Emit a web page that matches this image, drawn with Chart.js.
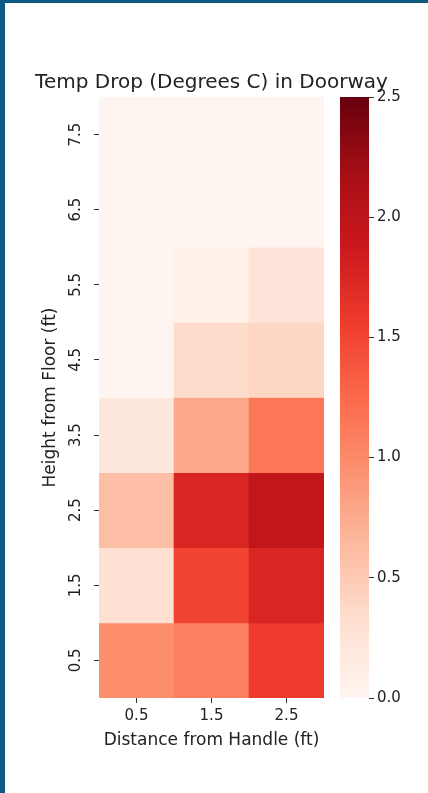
<!DOCTYPE html>
<html>
<head>
<meta charset="utf-8">
<script src="https://cdn.jsdelivr.net/npm/chart.js@4"></script>
<style>
  html, body { margin: 0; padding: 0; background: #fff; }
  #frame { position: relative; width: 428px; height: 793px; overflow: hidden; }
  #frame:before { content: ''; position: absolute; left: 0; top: 0; width: 5px; height: 793px; background: #0e5a80; z-index: 3; }
  #frame:after { content: ''; position: absolute; left: 0; top: 0; width: 428px; height: 3px; background: #0e5a80; z-index: 3; }
  canvas { position: absolute; left: 0; top: 0; }
</style>
</head>
<body>
<div id="frame">
  <canvas id="heat" width="423" height="793"></canvas>
  <canvas id="cbar" width="428" height="793"></canvas>
</div>
<script>
// data
var distLabels = ['0.5', '1.5', '2.5'];
var heights = [7.5, 6.5, 5.5, 4.5, 3.5, 2.5, 1.5, 0.5];
var tempDrop = [
    [0.00, 0.00, 0.00],   // 7.5 ft
    [0.00, 0.00, 0.00],   // 6.5 ft
    [0.00, 0.08, 0.25],   // 5.5 ft
    [0.00, 0.35, 0.40],   // 4.5 ft
    [0.20, 0.78, 1.15],   // 3.5 ft
    [0.60, 1.75, 1.95],   // 2.5 ft
    [0.30, 1.50, 1.75],   // 1.5 ft
    [0.98, 1.08, 1.57]    // 0.5 ft
];
var heightTicks = [0.5, 1.5, 2.5, 3.5, 4.5, 5.5, 6.5, 7.5];
var cbarTicks = [0, 0.5, 1.0, 1.5, 2.0, 2.5];
var vmax = 2.5;

// matplotlib "Reds"
var reds = ['#fff5f0', '#fee0d2', '#fcbba1', '#fc9272', '#fb6a4a', '#ef3b2c', '#cb181d', '#a50f15', '#67000d'];

function hexRgb(h) {
    return [parseInt(h.substr(1, 2), 16), parseInt(h.substr(3, 2), 16), parseInt(h.substr(5, 2), 16)];
}
function redsColor(v) {
    var t = Math.max(0, Math.min(1, v / vmax)) * (reds.length - 1);
    var i = Math.min(Math.floor(t), reds.length - 2);
    var f = t - i;
    var a = hexRgb(reds[i]), b = hexRgb(reds[i + 1]);
    var c = a.map(function (x, k) { return Math.round(x + (b[k] - x) * f); });
    return 'rgb(' + c.join(',') + ')';
}

var font = 'DejaVu Sans';
var textColor = '#222';
var tickColor = '#333';

var datasets = heights.map(function (h, r) {
    return {
        data: distLabels.map(function (d, c) { return { x: d, y: [h - 0.5, h + 0.5] }; }),
        backgroundColor: tempDrop[r].map(redsColor),
        borderWidth: 0,
        barPercentage: 1,
        categoryPercentage: 1,
        grouped: false
    };
});

// rotated y tick labels like the original
var rotatedYTicks = {
    id: 'rotatedYTicks',
    afterDraw: function (chart) {
        var ctx = chart.ctx, y = chart.scales.y;
        ctx.save();
        ctx.fillStyle = textColor;
        ctx.font = '15px "' + font + '"';
        ctx.textAlign = 'center';
        ctx.textBaseline = 'middle';
        heightTicks.forEach(function (v) {
            ctx.save();
            ctx.translate(76, y.getPixelForValue(v));
            ctx.rotate(-Math.PI / 2);
            ctx.fillText(v.toFixed(1), 0, 0);
            ctx.restore();
        });
        ctx.restore();
    }
};

new Chart(document.getElementById('heat'), {
    type: 'bar',
    data: { labels: distLabels, datasets: datasets },
    options: {
        responsive: false,
        animation: false,
        layout: { padding: 0 },
        plugins: {
            legend: { display: false },
            tooltip: { enabled: false },
            title: {
                display: true,
                text: 'Temp Drop (Degrees C) in Doorway',
                color: textColor,
                font: { family: font, size: 20, weight: 'normal' },
                padding: { top: 71, bottom: 2 }
            }
        },
        scales: {
            x: {
                type: 'category',
                offset: true,
                grid: { display: true, drawOnChartArea: false, offset: false, tickLength: 5, color: tickColor },
                border: { display: false },
                ticks: { color: textColor, font: { family: font, size: 15 }, padding: 4 },
                title: {
                    display: true,
                    text: 'Distance from Handle (ft)',
                    color: textColor,
                    font: { family: font, size: 17 },
                    padding: { top: 0, bottom: 42 }
                },
                afterFit: function (s) { s.height = 95; }
            },
            y: {
                type: 'linear',
                min: 0,
                max: 8,
                grid: { display: true, drawOnChartArea: false, tickLength: 5, color: tickColor },
                border: { display: false },
                ticks: { display: false },
                afterBuildTicks: function (s) { s.ticks = heightTicks.map(function (v) { return { value: v }; }); },
                title: {
                    display: true,
                    text: 'Height from Floor (ft)',
                    color: textColor,
                    font: { family: font, size: 17 },
                    padding: { top: 40, bottom: 0 }
                },
                afterFit: function (s) { s.width = 99; }
            },
            // empty right axis: keeps the title centred over the cells, space for the colour bar
            yRight: {
                type: 'linear',
                position: 'right',
                min: 0,
                max: 8,
                grid: { display: false },
                border: { display: false },
                ticks: { display: false },
                afterFit: function (s) { s.width = 99; }
            }
        }
    },
    plugins: [rotatedYTicks]
});

// colour bar
new Chart(document.getElementById('cbar'), {
    type: 'bar',
    data: {
        labels: [''],
        datasets: [{
            data: [[0, vmax]],
            borderWidth: 0,
            barPercentage: 1,
            categoryPercentage: 1,
            backgroundColor: function (c) {
                var area = c.chart.chartArea;
                if (!area) return reds[0];
                var g = c.chart.ctx.createLinearGradient(0, area.bottom, 0, area.top);
                reds.forEach(function (col, i) { g.addColorStop(i / (reds.length - 1), col); });
                return g;
            }
        }]
    },
    options: {
        responsive: false,
        animation: false,
        layout: { padding: { left: 340, top: 97, right: 19, bottom: 95 } },
        plugins: { legend: { display: false }, tooltip: { enabled: false } },
        scales: {
            x: { display: false },
            y: {
                position: 'right',
                min: 0,
                max: vmax,
                grid: { display: true, drawOnChartArea: false, tickLength: 5, color: tickColor },
                border: { display: false },
                afterBuildTicks: function (s) { s.ticks = cbarTicks.map(function (v) { return { value: v }; }); },
                ticks: {
                    color: textColor,
                    font: { family: font, size: 15 },
                    padding: 3,
                    callback: function (v) { return Number(v).toFixed(1); }
                },
                afterFit: function (s) { s.width = 40; }
            }
        }
    }
});
</script>
</body>
</html>
